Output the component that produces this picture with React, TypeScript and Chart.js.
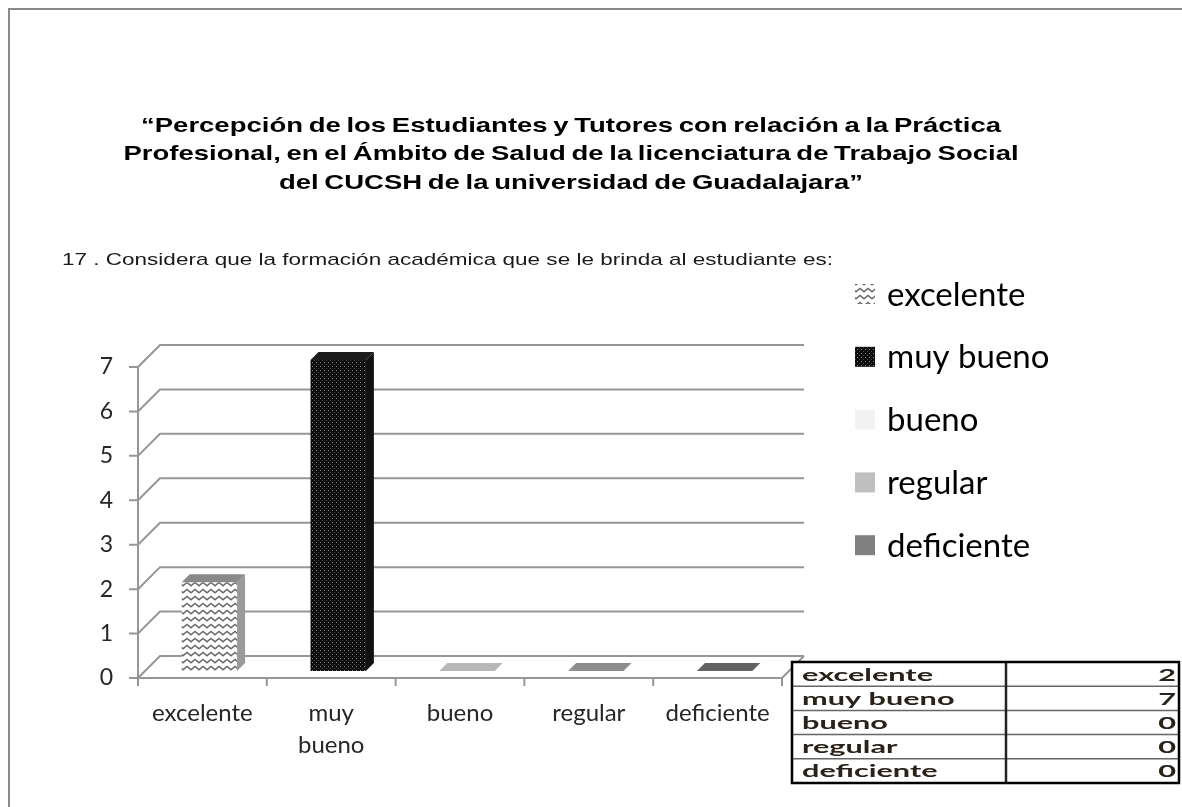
import React, { useEffect, useRef } from 'react';
import { Chart, registerables } from 'chart.js';
Chart.register(...registerables);

// ---- data ----
const categories = ['excelente', 'muy bueno', 'bueno', 'regular', 'deficiente'];
const values = [2, 7, 0, 0, 0];
const yTicks = [0, 1, 2, 3, 4, 5, 6, 7];
const titleLines = [
  '“Percepción de los Estudiantes y Tutores con relación a la Práctica',
  'Profesional, en el Ámbito de Salud de la licenciatura de Trabajo Social',
  'del CUCSH de la universidad de Guadalajara”',
];
const subtitle = '17 . Considera que la formación académica que se le brinda al estudiante es:';

// ---- styles ----
const frontColors = ['zigzag', 'dots', '#f2f2f2', '#bfbfbf', '#808080'];
const topColors = ['#8a8a8a', '#1c1c1c', '#b8b8b8', '#8e8e8e', '#636363'];
const sideColors = ['#9a9a9a', '#111111', '#d0d0d0', '#a0a0a0', '#6a6a6a'];
const LINE = '#969696';
const DEPTH = 22;
const BAR_OFF = 7;
const BAR_D = 8;
const FONT = 'Lato, "Noto Sans", sans-serif';

function makePattern(ctx: CanvasRenderingContext2D, kind: string): CanvasPattern | string {
  const c = document.createElement('canvas');
  if (kind === 'zigzag') {
    c.width = 8; c.height = 7;
    const g = c.getContext('2d')!;
    g.fillStyle = '#ffffff'; g.fillRect(0, 0, 8, 7);
    g.strokeStyle = '#6a6a6a'; g.lineWidth = 1.6;
    g.beginPath(); g.moveTo(-1, 5.5); g.lineTo(4, 1.5); g.lineTo(9, 5.5); g.stroke();
    return ctx.createPattern(c, 'repeat')!;
  }
  if (kind === 'dots') {
    c.width = 4; c.height = 4;
    const g = c.getContext('2d')!;
    g.fillStyle = '#0c0c0c'; g.fillRect(0, 0, 4, 4);
    g.fillStyle = '#8a8a8a'; g.fillRect(1, 1, 1, 1);
    g.fillStyle = '#4a4a4a'; g.fillRect(3, 3, 1, 1);
    return ctx.createPattern(c, 'repeat')!;
  }
  return kind;
}

function drawScaledText(ctx: CanvasRenderingContext2D, text: string, x: number, y: number, sx: number, align: 'left' | 'right' | 'center') {
  ctx.save();
  ctx.translate(x, y);
  ctx.scale(sx, 1);
  ctx.textAlign = align;
  ctx.fillText(text, 0, 0);
  ctx.restore();
}

export default function App() {
  const ref = useRef<HTMLCanvasElement>(null);
  useEffect(() => {
    document.body.style.margin = '0';
    document.body.style.overflow = 'hidden';
    const canvas = ref.current!;
    const ctx0 = canvas.getContext('2d')!;
    const fills = frontColors.map((k) => makePattern(ctx0, k));

    const depthPlugin = {
      id: 'depth3d',
      beforeDraw(chart: any) {
        const { ctx, chartArea: a, scales } = chart;
        const x = scales.x; const y = scales.y;
        ctx.save();
        ctx.fillStyle = '#ffffff';
        ctx.fillRect(0, 0, chart.width, chart.height);
        // outer frame
        ctx.strokeStyle = '#8a8a8a'; ctx.lineWidth = 2;
        ctx.beginPath(); ctx.moveTo(9, chart.height); ctx.lineTo(9, 9); ctx.lineTo(chart.width, 9); ctx.stroke();
        // title
        ctx.fillStyle = '#000';
        ctx.font = 'bold 21px "Liberation Sans", Arial, sans-serif';
        (ctx as any).wordSpacing = '-1.5px';
        ctx.textBaseline = 'middle';
        const w0 = ctx.measureText(titleLines[0]).width;
        const tsx = 860 / w0;
        titleLines.forEach((t, i) => drawScaledText(ctx, t, 571, 126 + i * 28.5, tsx, 'center'));
        (ctx as any).wordSpacing = '0px';
        // subtitle
        ctx.fillStyle = '#1a1a1a';
        ctx.font = '17px "Liberation Sans", Arial, sans-serif';
        const sw = ctx.measureText(subtitle).width;
        drawScaledText(ctx, subtitle, 62, 260, 771 / sw, 'left');
        // back grid + side diagonals
        ctx.strokeStyle = LINE; ctx.lineWidth = 2;
        y.ticks.forEach((t: any) => {
          const py = y.getPixelForValue(t.value);
          ctx.beginPath();
          ctx.moveTo(a.left - 9, py);
          ctx.lineTo(a.left, py);
          ctx.lineTo(a.left + DEPTH, py - DEPTH);
          ctx.lineTo(a.right + DEPTH, py - DEPTH);
          ctx.stroke();
        });
        // front axes
        ctx.beginPath();
        ctx.moveTo(a.left, a.top);
        ctx.lineTo(a.left, a.bottom);
        ctx.lineTo(a.right, a.bottom);
        ctx.lineTo(a.right + DEPTH, a.bottom - DEPTH);
        ctx.stroke();
        for (let i = 0; i <= categories.length; i++) {
          const px = x.getPixelForValue(i - 0.5);
          ctx.beginPath(); ctx.moveTo(px, a.bottom); ctx.lineTo(px, a.bottom + 8); ctx.stroke();
        }
        ctx.restore();
      },
      beforeDatasetsDraw(chart: any) {
        chart.ctx.save();
        chart.ctx.translate(BAR_OFF, -BAR_OFF);
      },
      afterDatasetsDraw(chart: any) {
        const ctx = chart.ctx;
        const meta = chart.getDatasetMeta(0);
        meta.data.forEach((bar: any, i: number) => {
          const { x, y, base, width } = bar.getProps(['x', 'y', 'base', 'width'], true);
          const x0 = x - width / 2; const x1 = x + width / 2;
          const d = BAR_D;
          ctx.fillStyle = sideColors[i];
          ctx.beginPath();
          ctx.moveTo(x1, y); ctx.lineTo(x1 + d, y - d); ctx.lineTo(x1 + d, base - d); ctx.lineTo(x1, base);
          ctx.closePath(); ctx.fill();
          ctx.fillStyle = topColors[i];
          ctx.beginPath();
          ctx.moveTo(x0, y); ctx.lineTo(x1, y); ctx.lineTo(x1 + d, y - d); ctx.lineTo(x0 + d, y - d);
          ctx.closePath(); ctx.fill();
        });
        ctx.restore();
      },
      afterDraw(chart: any) {
        const ctx = chart.ctx;
        ctx.save();
        // legend
        ctx.textBaseline = 'middle';
        ctx.font = '33px ' + FONT;
        categories.forEach((c, i) => {
          const cy = 294 + i * 62.8;
          ctx.fillStyle = fills[i] as any;
          ctx.fillRect(855, cy - 10, 20, 20);
          ctx.fillStyle = '#000';
          ctx.textAlign = 'left';
          ctx.fillText(c, 887, cy + 1);
        });
        // data table
        const tl = 792, tr = 1179, tt = 662, rh = 24.2, mid = 1006;
        const tb = tt + rh * categories.length;
        ctx.fillStyle = '#fff';
        ctx.fillRect(tl, tt, tr - tl, tb - tt);
        ctx.strokeStyle = '#666'; ctx.lineWidth = 1.5;
        for (let i = 1; i < categories.length; i++) {
          ctx.beginPath(); ctx.moveTo(tl, tt + rh * i); ctx.lineTo(tr, tt + rh * i); ctx.stroke();
        }
        ctx.strokeStyle = '#222'; ctx.lineWidth = 2.5;
        ctx.beginPath(); ctx.moveTo(mid, tt); ctx.lineTo(mid, tb); ctx.stroke();
        ctx.strokeStyle = '#000'; ctx.lineWidth = 2.5;
        ctx.strokeRect(tl, tt, tr - tl, tb - tt);
        ctx.font = 'bold 17px ' + FONT;
        const ew = ctx.measureText(categories[0]).width;
        const tsx = 131 / ew;
        ctx.fillStyle = '#2a2118';
        categories.forEach((c, i) => {
          const cy = tt + rh * i + rh / 2 + 1;
          drawScaledText(ctx, c, 802, cy, tsx, 'left');
          drawScaledText(ctx, String(values[i]), 1176, cy, tsx, 'right');
        });
        ctx.restore();
      },
    };

    const chart = new Chart(canvas, {
      type: 'bar',
      data: {
        labels: categories,
        datasets: [{
          label: 'Respuestas',
          data: values,
          backgroundColor: fills as any,
          borderWidth: 0,
          barPercentage: 0.43,
          categoryPercentage: 1,
        }],
      },
      options: {
        responsive: false,
        animation: false,
        events: [],
        layout: { padding: { left: 88, right: 400, top: 367, bottom: 49 } },
        plugins: { legend: { display: false }, title: { display: false }, tooltip: { enabled: false } },
        scales: {
          x: {
            grid: { display: false, drawTicks: false },
            border: { display: false },
            ticks: {
              padding: 20,
              color: '#262626',
              font: { family: FONT, size: 24, lineHeight: 1.3 },
              maxRotation: 0,
              autoSkip: false,
              callback: (_v: any, i: number) => {
                const l = categories[i];
                return l.includes(' ') ? l.split(' ') : l;
              },
            },
            afterFit: (s: any) => { s.height = 80; s.paddingLeft = 0; s.paddingRight = 0; },
          },
          y: {
            min: 0,
            max: 7,
            grid: { display: false, drawTicks: false },
            border: { display: false },
            afterBuildTicks: (s: any) => { s.ticks = yTicks.map((v) => ({ value: v })); },
            ticks: {
              padding: 25,
              color: '#262626',
              font: { family: FONT, size: 23 },
            },
            afterFit: (s: any) => { s.width = 50; s.paddingTop = 0; s.paddingBottom = 0; },
          },
        },
      },
      plugins: [depthPlugin],
    });
    return () => chart.destroy();
  }, []);
  return (
    <div style={{ width: 1182, height: 807, overflow: 'hidden' }}>
      <canvas ref={ref} width={1182} height={807} style={{ display: 'block' }} />
    </div>
  );
}
